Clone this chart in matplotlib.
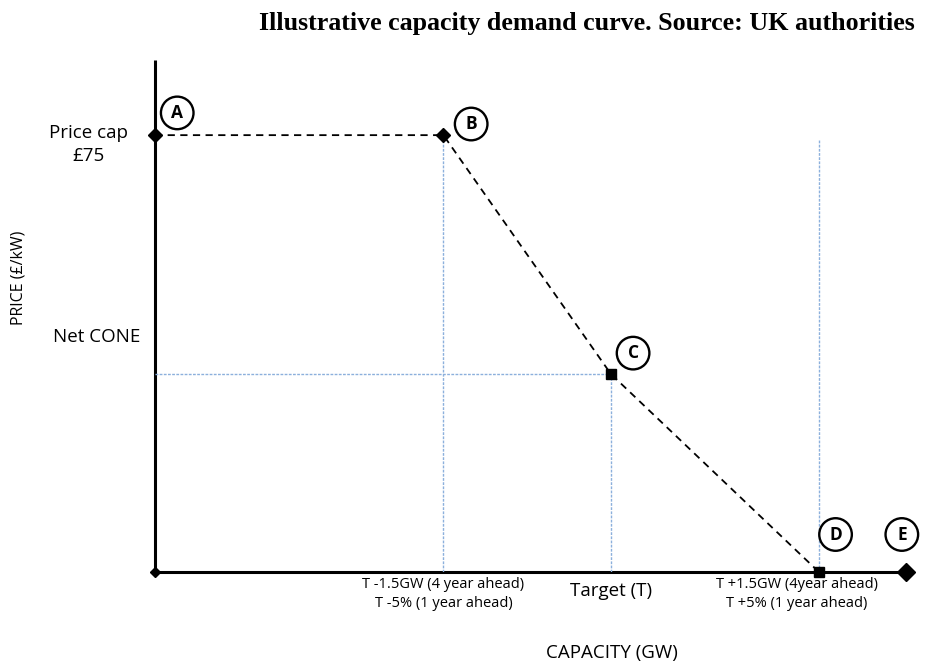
import matplotlib
matplotlib.use("Agg")

import matplotlib.pyplot                as plt

# --- data -----------------------------------------------------------------
point_names     = ["A", "B", "C", "D", "E"]
capacity        = [0.0, 3.84, 6.07, 8.84, 10.0]     # arbitrary GW scale
price           = [75.0, 75.0, 34.0, 0.0, 0.0]      # £/kW
point_markers   = ["D", "D", "s", "s", "D"]
point_msize     = [7.5, 7.5, 6.5, 6.5, 9.5]

price_cap       = 75.0
net_cone        = 34.0
d_guide_top     = 74.3
y_top           = 87.9

tick_labels     = [ "T -1.5GW (4 year ahead)\nT -5% (1 year ahead)"
                  , "Target (T)"
                  , "T +1.5GW (4year ahead)\nT +5% (1 year ahead)"]
tick_x          = [3.84, 6.07, 8.55]

title           = "Illustrative capacity demand curve. Source: UK authorities"

# --- style ----------------------------------------------------------------
FONT            = "Open Sans"
GUIDE           = { "color": "#8cb0dc", "linewidth": 1.0, "linestyle": (0, (2, 1)) }
CURVE           = { "color": "black", "linewidth": 1.3, "linestyle": (0, (4, 3)) }
AXLINE          = { "color": "black", "linewidth": 2.2, "solid_capstyle": "butt" }
CIRCLE          = { "boxstyle": "circle,pad=0.42", "fc": "white", "ec": "black", "lw": 1.7 }

label_offsets   = [(16, 16), (20, 8), (16, 15), (12, 27), (-3, 27)]

fig = plt.figure(figsize=(9.26, 6.64), dpi=100)
ax = fig.add_axes([155 / 926, (664 - 572) / 664, 751 / 926, (572 - 60) / 664])
ax.set_xlim(0, 10)
ax.set_ylim(0, y_top)
ax.axis("off")

# axes drawn by hand so that the markers sit on them
ax.plot([0, 0], [0, y_top], clip_on=False, **AXLINE)
ax.plot([0, capacity[-1]], [0, 0], clip_on=False, **AXLINE)
ax.plot([0], [0], marker="D", ms=5, color="black", clip_on=False)

# blue guide lines
ax.plot([capacity[1], capacity[1]], [0, price_cap], **GUIDE)
ax.plot([capacity[2], capacity[2]], [0, net_cone], **GUIDE)
ax.plot([0, capacity[2]], [net_cone, net_cone], **GUIDE)
ax.plot([capacity[3], capacity[3]], [0, d_guide_top], **GUIDE)

# demand curve A-B-C-D
ax.plot(capacity[:4], price[:4], clip_on=False, **CURVE)

for name, x, y, m, ms, off in zip(point_names, capacity, price,
                                  point_markers, point_msize, label_offsets):
    ax.plot([x], [y], marker=m, ms=ms, color="black", clip_on=False, zorder=5)
    ax.annotate(name, (x, y), xytext=off, textcoords="offset points",
                ha="center", va="center", fontsize=12.5, fontweight="bold",
                family=FONT, bbox=CIRCLE, zorder=6)

# x labels
for lbl, x in zip(tick_labels, tick_x):
    if "\n" in lbl:
        ax.text(x, -3.75, lbl, ha="center", va="center", fontsize=10.5,
                family=FONT, linespacing=1.35)
    else:
        ax.text(x, -3.2, lbl, ha="center", va="center", fontsize=13.5,
                family=FONT)
ax.text(6.08, -13.9, "CAPACITY (GW)", ha="center", va="center",
        fontsize=13.5, family=FONT)

# y labels
ax.text(-0.89, 73.4, "Price cap\n£75", ha="center", va="center",
        fontsize=13.5, family=FONT, linespacing=1.3)
ax.text(-0.77, 40.3, "Net CONE", ha="center", va="center",
        fontsize=13.5, family=FONT)
ax.text(-1.82, 50.5, "PRICE (£/kW)", ha="center", va="center",
        rotation=90, fontsize=11.5, family=FONT)

fig.text(0.634, 0.965, title, ha="center", va="center", fontsize=18.7,
         fontweight="bold", family="Liberation Serif")

fig.savefig("out.png", dpi=100)
